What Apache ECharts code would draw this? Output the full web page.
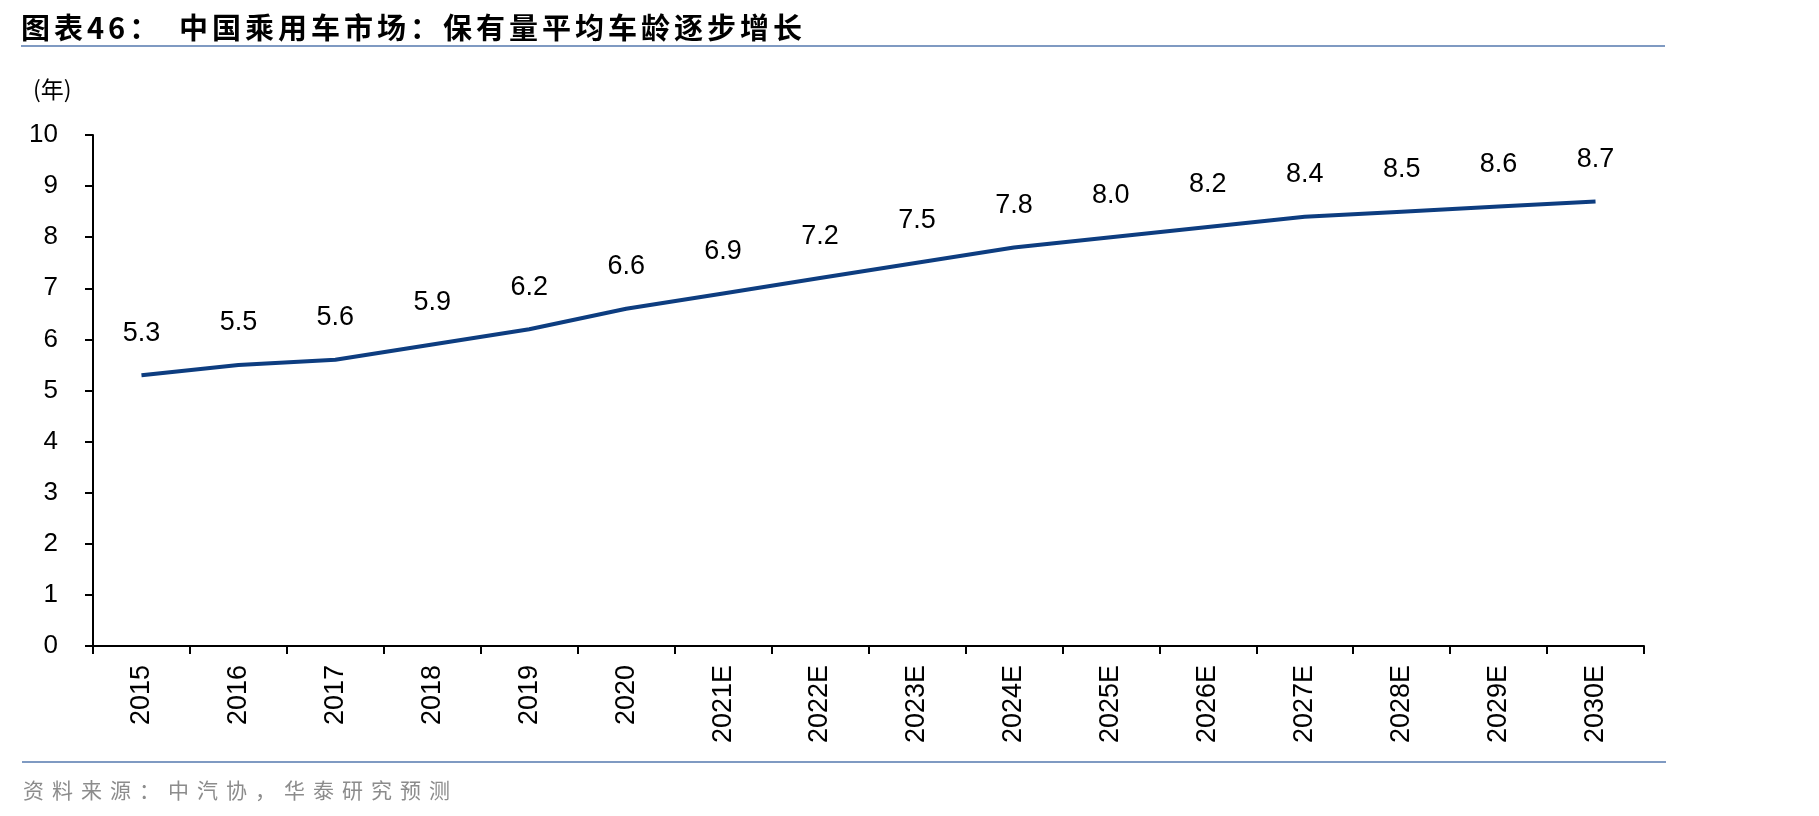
<!DOCTYPE html>
<html>
<head>
<meta charset="utf-8">
<script src="https://cdn.jsdelivr.net/npm/echarts@6/dist/echarts.min.js"></script>
<style>
html,body{margin:0;padding:0;background:#fff;}
#main{width:1819px;height:816px;position:relative;}
.tit{position:absolute;top:6px;font-family:"Noto Sans CJK SC";font-weight:bold;font-size:29px;color:#000;letter-spacing:4px;line-height:40px;}
.src{position:absolute;left:23px;top:775px;font-family:"Noto Sans CJK SC";font-size:21px;color:#8c8c8c;letter-spacing:8px;line-height:28px;}
</style>
</head>
<body>
<div id="main"></div>
<div class="tit" style="left:21px;">图表46：</div>
<div class="tit" style="left:179px;">中国乘用车市场：保有量平均车龄逐步增长</div>
<div class="src">资料来源：中汽协，华泰研究预测</div>
<script>
// 年份
var years = ['2015','2016','2017','2018','2019','2020','2021E','2022E','2023E','2024E','2025E','2026E','2027E','2028E','2029E','2030E'];
// 平均车龄(年)
var carAge = [5.3,5.5,5.6,5.9,6.2,6.6,6.9,7.2,7.5,7.8,8.0,8.2,8.4,8.5,8.6,8.7];
var yTicks = [0,1,2,3,4,5,6,7,8,9,10];

var myChart = echarts.init(document.getElementById('main'));
var latin = '"Liberation Sans", Arial, sans-serif';
var option = {
	animation: false,
	title: [
		{text: '(年)', left: 28, top: 73, textStyle: {fontFamily: '"Noto Sans CJK SC"', fontWeight: 'normal', fontSize: 23, color: '#000'}}
	],
	graphic: [
		{type: 'line', shape: {x1: 21, y1: 46, x2: 1665, y2: 46}, style: {stroke: '#7f9ac2', lineWidth: 2}},
		{type: 'line', shape: {x1: 22, y1: 762, x2: 1666, y2: 762}, style: {stroke: '#7f9ac2', lineWidth: 2}}
	],
	grid: {left: 93, right: 175, top: 135, bottom: 170},
	xAxis: {
		type: 'category',
		data: years,
		boundaryGap: true,
		axisLine: {lineStyle: {color: '#000', width: 2}},
		axisTick: {show: true, length: 8, alignWithLabel: false, lineStyle: {color: '#000', width: 2}},
		axisLabel: {rotate: 90, margin: 19, interval: 0, color: '#000', fontSize: 27, fontFamily: latin}
	},
	yAxis: {
		type: 'value',
		min: yTicks[0],
		max: yTicks[yTicks.length - 1],
		interval: 1,
		splitLine: {show: false},
		axisLine: {show: true, lineStyle: {color: '#000', width: 2}},
		axisTick: {show: true, length: 8, lineStyle: {color: '#000', width: 2}},
		axisLabel: {margin: 35, color: '#000', fontSize: 26, fontFamily: latin}
	},
	series: [
		{
			type: 'line',
			data: carAge,
			smooth: false,
			symbol: 'circle',
			showSymbol: true,
			symbolSize: 1,
			itemStyle: {color: 'rgba(0,0,0,0)'},
			lineStyle: {color: '#0d3d80', width: 4},
			label: {
				show: true,
				position: 'top',
				distance: 28,
				color: '#000',
				fontSize: 27,
				fontFamily: latin,
				formatter: function(p){ return p.value.toFixed(1); }
			}
		}
	]
};
myChart.setOption(option);
</script>
</body>
</html>
